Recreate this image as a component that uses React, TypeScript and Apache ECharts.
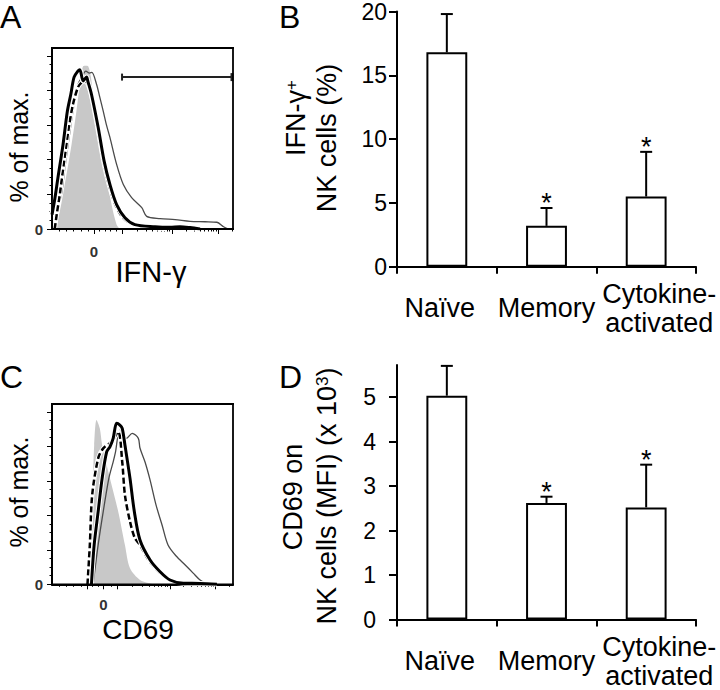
import React, { useEffect, useRef } from 'react';
import * as echarts from 'echarts';

const FONT = '"Liberation Sans", Arial, Helvetica, sans-serif';

// ---- Bar panels (B, D) ----
const categories = ['Naïve', 'Memory', 'Cytokine-\nactivated'];
const ifngPctValues = [16.8, 3.2, 5.5];
const ifngPctErrTop = [19.8, 4.6, 9.0];
const ifngSignificant = [0, 1, 1];
const cd69MfiValues = [5.03, 2.62, 2.52];
const cd69MfiErrTop = [5.7, 2.76, 3.48];
const cd69Significant = [0, 1, 1];
const cd69TickValues = [0, 1, 2, 3, 4, 5];

// ---- Histogram panels (A, C): [channel, % of max] ----
const ifngControl = [[21, 0], [43, 10.2], [61, 19.9], [108, 48.8], [135, 68.1], [159, 87.7], [172, 94.0], [187, 94.3], [200, 94.0], [215, 87.7], [237, 68.1], [264, 48.8], [302, 29.7], [329, 14.1], [357, 2.5], [375, 0]];
const ifngNaive = [[9, 0], [21, 8.3], [52, 19.9], [70, 34.4], [89, 48.8], [116, 68.1], [144, 83.6], [165, 87.7], [187, 91.1], [207, 90.0], [220, 90.4], [246, 83.6], [264, 76.1], [283, 68.1], [300, 60.4], [320, 52.9], [357, 37.3], [394, 25.7], [440, 18.1], [496, 12.3], [523, 7.3], [597, 6.0], [680, 5.4], [763, 4.4], [846, 4.2], [911, 3.9], [948, 1.3], [974, 0]];
const ifngCytokine = [[15, 0], [26, 8.3], [43, 19.9], [67, 39.2], [93, 58.7], [116, 72.0], [144, 81.9], [165, 84.8], [181, 85.5], [198, 83.6], [218, 76.7], [251, 58.7], [284, 39.2], [314, 25.7], [350, 14.1], [392, 6.5], [447, 2.5], [542, 0.8], [625, 0]];
const ifngMemory = [[0, 8.3], [15, 17.0], [33, 29.7], [61, 48.8], [85, 68.1], [104, 77.8], [122, 87.7], [144, 91.3], [154, 92.0], [172, 85.5], [191, 87.7], [198, 85.3], [218, 77.8], [255, 58.7], [288, 39.2], [320, 25.7], [357, 14.1], [403, 6.5], [458, 2.5], [569, 1.3], [652, 1.0], [707, 1.3], [763, 0.8], [818, 0]];
const ifngGate = [387, 1000, 87.7];
const ifngMajorTicks = [231, 386, 663, 918];
const ifngMinorTicks = [40, 80, 120, 160, 200, 262, 293, 324, 355, 469, 518, 553, 580, 601, 620, 636, 650, 740, 785, 817, 841, 861, 878, 893, 906, 995];
const ifngZeroTick = [231];

const cd69Control = [[200, 0], [215, 22.8], [224, 51.7], [233, 80.7], [246, 95.2], [264, 90.4], [277, 80.7], [320, 61.4], [366, 42.1], [403, 22.8], [431, 9.3], [486, 2.5], [532, 0.8], [569, 0]];
const cd69Naive = [[227, 0], [255, 22.8], [283, 42.1], [314, 61.4], [338, 71.0], [351, 76.8], [375, 89.4], [412, 84.6], [443, 87.5], [477, 84.6], [486, 79.0], [514, 70.9], [542, 60.4], [575, 45.9], [608, 34.4], [641, 22.8], [686, 16.4], [736, 11.2], [780, 6.5], [818, 2.5], [858, 0]];
const cd69Cytokine = [[196, 0], [209, 22.8], [222, 51.7], [255, 73.0], [283, 78.8], [329, 82.6], [366, 88.4], [388, 71.0], [403, 51.7], [431, 36.3], [458, 26.7], [486, 22.8], [542, 12.9], [625, 4.2], [707, 0.8], [818, 0]];
const cd69Memory = [[218, 0], [233, 22.8], [255, 42.1], [277, 61.4], [302, 76.8], [320, 79.7], [338, 84.6], [357, 93.3], [375, 92.3], [388, 90.4], [403, 80.7], [431, 61.4], [455, 42.1], [486, 25.7], [542, 14.1], [597, 7.3], [652, 2.5], [726, 0.6], [818, 0.5], [911, 0]];
const cd69MajorTicks = [192, 284, 358, 652, 902];
const cd69MinorTicks = [40, 80, 120, 160, 225, 258, 325, 446, 498, 535, 563, 587, 606, 623, 638, 727, 771, 802, 827, 846, 863, 878, 890, 977];
const cd69ZeroTick = [284];

const pctMajorTicks = [0, 20, 40, 60, 80, 100];
const pctMinorTicks = [5, 10, 15, 25, 30, 35, 45, 50, 55, 65, 70, 75, 85, 90, 95];
const pctZeroTick = [0];

const PCT_MAX = 104.5;
const CH_MAX = 1000;

// panel layout (pixels)
const GRID_A = { left: 52, top: 48, width: 181, height: 181 };
const GRID_B = { left: 397, top: 8.5, width: 299, height: 258.2 };
const GRID_C = { left: 52, top: 404, width: 181, height: 180.3 };
const GRID_D = { left: 397, top: 365, width: 299, height: 257.7 };

function histAxes(gridIndex: number, majors: number[], minors: number[], zero: number[], labelMargin: number) {
  const xMain = {
    type: 'value', gridIndex, min: 0, max: CH_MAX, position: 'bottom',
    axisLine: { show: true, onZero: false, lineStyle: { color: '#000', width: 2 } },
    axisTick: { show: true, customValues: majors, length: 5, lineStyle: { color: '#000', width: 1 } },
    axisLabel: { show: true, customValues: zero, formatter: () => '0', margin: labelMargin, verticalAlign: 'middle', fontSize: 15, fontWeight: 'bold', color: '#333', fontFamily: FONT },
    splitLine: { show: false },
  };
  const xMinor = {
    type: 'value', gridIndex, min: 0, max: CH_MAX, position: 'bottom',
    axisLine: { show: false, onZero: false },
    axisTick: { show: true, customValues: minors, length: 2.5, lineStyle: { color: '#000', width: 1 } },
    axisLabel: { show: false },
    splitLine: { show: false },
  };
  const yMain = {
    type: 'value', gridIndex, min: 0, max: PCT_MAX, position: 'left',
    axisLine: { show: true, onZero: false, lineStyle: { color: '#000', width: 2 } },
    axisTick: { show: true, customValues: pctMajorTicks, length: 5, lineStyle: { color: '#000', width: 1 } },
    axisLabel: { show: true, customValues: pctZeroTick, formatter: () => '0', margin: 9, fontSize: 15, fontWeight: 'bold', color: '#333', fontFamily: FONT },
    splitLine: { show: false },
  };
  const yMinor = {
    type: 'value', gridIndex, min: 0, max: PCT_MAX, position: 'left',
    axisLine: { show: false, onZero: false },
    axisTick: { show: true, customValues: pctMinorTicks, length: 2.5, lineStyle: { color: '#000', width: 1 } },
    axisLabel: { show: false },
    splitLine: { show: false },
  };
  return { xMain, xMinor, yMain, yMinor };
}

function histSeries(xi: number, yi: number, control: number[][], naive: number[][], cyto: number[][], memory: number[][]) {
  const base = { type: 'line', xAxisIndex: xi, yAxisIndex: yi, showSymbol: false, symbol: 'none', smooth: 0.3, silent: true };
  return [
    { ...base, name: 'control', data: control, lineStyle: { width: 0, color: '#c8c8c8' }, areaStyle: { color: '#c8c8c8', opacity: 1 } },
    { ...base, name: 'naive', data: naive, lineStyle: { width: 1.3, color: '#4a4a4a' } },
    { ...base, name: 'cytoHalo', data: cyto, lineStyle: { width: 4.5, color: '#fff' } },
    { ...base, name: 'cytokine', data: cyto, lineStyle: { width: 2.5, color: '#000', type: [6, 3] } },
    { ...base, name: 'memHalo', data: memory, lineStyle: { width: 5, color: '#fff' } },
    { ...base, name: 'memory', data: memory, lineStyle: { width: 3, color: '#000' } },
  ];
}

const catRich = {
  n: { fontSize: 27, lineHeight: 29, fontFamily: FONT, color: '#000', padding: [0, 14, 0, 0] },
  m: { fontSize: 27, lineHeight: 29, fontFamily: FONT, color: '#000' },
  c: { fontSize: 27, lineHeight: 29, fontFamily: FONT, color: '#000', padding: [0, 0, 0, 26] },
};
const catTags = ['n', 'm', 'c'];

function barAxes(gridIndex: number, yMax: number, interval: number | null, tickValues: number[] | null, labelMargin: number) {
  const x = {
    type: 'category', gridIndex, data: categories, boundaryGap: true,
    axisLine: { show: true, lineStyle: { color: '#000', width: 2 } },
    axisTick: { show: true, alignWithLabel: false, length: 7, lineStyle: { color: '#000', width: 2 } },
    axisLabel: {
      show: true, interval: 0, margin: 41.5, verticalAlign: 'middle', fontSize: 27, lineHeight: 29, color: '#000', fontFamily: FONT,
      formatter: (v: string, i: number) => v.split('\n').map((line) => `{${catTags[i]}|${line}}`).join('\n'),
      rich: catRich,
    },
    splitLine: { show: false },
  };
  const y: any = {
    type: 'value', gridIndex, min: 0, max: yMax,
    axisLine: { show: true, lineStyle: { color: '#000', width: 2 } },
    axisTick: { show: true, length: 8, lineStyle: { color: '#000', width: 2 } },
    axisLabel: { show: true, margin: labelMargin, fontSize: 23, color: '#000', fontFamily: FONT },
    splitLine: { show: false },
  };
  if (interval !== null) y.interval = interval;
  if (tickValues) {
    y.axisTick.customValues = tickValues;
    y.axisLabel.customValues = tickValues;
  }
  return { x, y };
}

function errorSeries(xi: number, yi: number, vals: number[], tops: number[], sig: number[]) {
  return {
    type: 'custom', xAxisIndex: xi, yAxisIndex: yi, silent: true, z: 5,
    encode: { x: 0, y: [1, 2] },
    data: vals.map((v, i) => [i, v, tops[i], sig[i]]),
    renderItem: (params: any, api: any) => {
      const i = api.value(0);
      const p0 = api.coord([i, api.value(1)]);
      const p1 = api.coord([i, api.value(2)]);
      const children: any[] = [
        { type: 'line', shape: { x1: p0[0], y1: p0[1], x2: p1[0], y2: p1[1] }, style: { stroke: '#000', lineWidth: 2 } },
        { type: 'line', shape: { x1: p1[0] - 6, y1: p1[1], x2: p1[0] + 6, y2: p1[1] }, style: { stroke: '#000', lineWidth: 2 } },
      ];
      if (api.value(3)) {
        children.push({ type: 'text', x: p1[0], y: p1[1] - 5, style: { text: '*', fontSize: 27, fontFamily: FONT, fill: '#000', align: 'center', verticalAlign: 'middle' } });
      }
      return { type: 'group', children };
    },
  };
}

// Frame drawn as four thin filled bars (fill only, no stroke)
function frameBars(g: { left: number; top: number; width: number; height: number }) {
  const t = 1.8;
  const st = { fill: '#000' };
  return [
    { type: 'rect', z: 100, silent: true, shape: { x: g.left - t / 2, y: g.top - t / 2, width: g.width + t, height: t }, style: st },
    { type: 'rect', z: 100, silent: true, shape: { x: g.left - t / 2, y: g.top + g.height - t / 2, width: g.width + t, height: t }, style: st },
    { type: 'rect', z: 100, silent: true, shape: { x: g.left - t / 2, y: g.top - t / 2, width: t, height: g.height + t }, style: st },
    { type: 'rect', z: 100, silent: true, shape: { x: g.left + g.width - t / 2, y: g.top - t / 2, width: t, height: g.height + t }, style: st },
  ];
}

export default function App() {
  const ref = useRef<HTMLDivElement>(null);
  useEffect(() => {
    if (!ref.current) return;
    const chart = echarts.init(ref.current, null, { renderer: 'svg' });
    const a = histAxes(0, ifngMajorTicks, ifngMinorTicks, ifngZeroTick, 22);
    const c = histAxes(2, cd69MajorTicks, cd69MinorTicks, cd69ZeroTick, 20);
    const b = barAxes(1, 20, 5, null, 10);
    const d = barAxes(3, 5.72, null, cd69TickValues, 21);

    const gateSeries = {
      type: 'custom', xAxisIndex: 0, yAxisIndex: 0, silent: true, z: 6,
      encode: { x: [0, 1], y: 2 },
      data: [ifngGate],
      renderItem: (params: any, api: any) => {
        const p0 = api.coord([api.value(0), api.value(2)]);
        const p1 = api.coord([api.value(1), api.value(2)]);
        return {
          type: 'group',
          children: [
            { type: 'line', shape: { x1: p0[0], y1: p0[1], x2: p1[0], y2: p1[1] }, style: { stroke: '#222', lineWidth: 2 } },
            { type: 'line', shape: { x1: p0[0], y1: p0[1] - 3.5, x2: p0[0], y2: p0[1] + 3.5 }, style: { stroke: '#222', lineWidth: 2 } },
            { type: 'line', shape: { x1: p1[0] - 1, y1: p1[1] - 4, x2: p1[0] - 1, y2: p1[1] + 4 }, style: { stroke: '#222', lineWidth: 3 } },
          ],
        };
      },
    };

    const ts = (size: number, text: string, align = 'center') => ({ text, fontSize: size, fontFamily: FONT, fill: '#000', align, verticalAlign: 'middle' });
    const supRich = { m: { fontSize: 27, fontFamily: FONT, fill: '#000' }, s: { fontSize: 17, fontFamily: FONT, fill: '#000', verticalAlign: 'top' } };

    const option: any = {
      animation: false,
      backgroundColor: '#fff',
      grid: [{ ...GRID_A }, { ...GRID_B }, { ...GRID_C }, { ...GRID_D }],
      xAxis: [a.xMain, a.xMinor, b.x, c.xMain, c.xMinor, d.x],
      yAxis: [a.yMain, a.yMinor, b.y, c.yMain, c.yMinor, d.y],
      series: [
        ...histSeries(0, 0, ifngControl, ifngNaive, ifngCytokine, ifngMemory),
        gateSeries,
        ...histSeries(3, 3, cd69Control, cd69Naive, cd69Cytokine, cd69Memory),
        { type: 'bar', xAxisIndex: 2, yAxisIndex: 2, data: ifngPctValues, barWidth: '41%', silent: true, itemStyle: { color: '#fff', borderColor: '#000', borderWidth: 2 } },
        errorSeries(2, 2, ifngPctValues, ifngPctErrTop, ifngSignificant),
        { type: 'bar', xAxisIndex: 5, yAxisIndex: 5, data: cd69MfiValues, barWidth: '41%', silent: true, itemStyle: { color: '#fff', borderColor: '#000', borderWidth: 2 } },
        errorSeries(5, 5, cd69MfiValues, cd69MfiErrTop, cd69Significant),
      ],
      graphic: [
        ...frameBars(GRID_A),
        ...frameBars(GRID_C),
        { type: 'text', x: 0, y: 17, style: ts(32, 'A', 'left') },
        { type: 'text', x: 279, y: 17, style: ts(32, 'B', 'left') },
        { type: 'text', x: 0, y: 377, style: ts(32, 'C', 'left') },
        { type: 'text', x: 279, y: 377, style: ts(32, 'D', 'left') },
        { type: 'text', x: 19, y: 147, rotation: Math.PI / 2, style: ts(25, '% of max.') },
        { type: 'text', x: 19, y: 492, rotation: Math.PI / 2, style: ts(25, '% of max.') },
        { type: 'text', x: 151, y: 272, style: ts(29, 'IFN-γ') },
        { type: 'text', x: 138, y: 629, style: ts(28, 'CD69') },
        { type: 'text', x: 296, y: 118, rotation: Math.PI / 2, style: { ...ts(27, '{m|IFN-γ}{s|+}'), rich: supRich } },
        { type: 'text', x: 327, y: 138, rotation: Math.PI / 2, style: ts(27, 'NK cells (%)') },
        { type: 'text', x: 293, y: 497, rotation: Math.PI / 2, style: ts(27, 'CD69 on') },
        { type: 'text', x: 327, y: 496, rotation: Math.PI / 2, style: { ...ts(27, '{m|NK cells (MFI) (x 10}{s|3}{m|)}'), rich: supRich } },
      ],
    };
    chart.setOption(option);
    return () => chart.dispose();
  }, []);
  return <div ref={ref} style={{ position: 'fixed', left: 0, top: 0, width: 720, height: 690, background: '#fff' }} />;
}
